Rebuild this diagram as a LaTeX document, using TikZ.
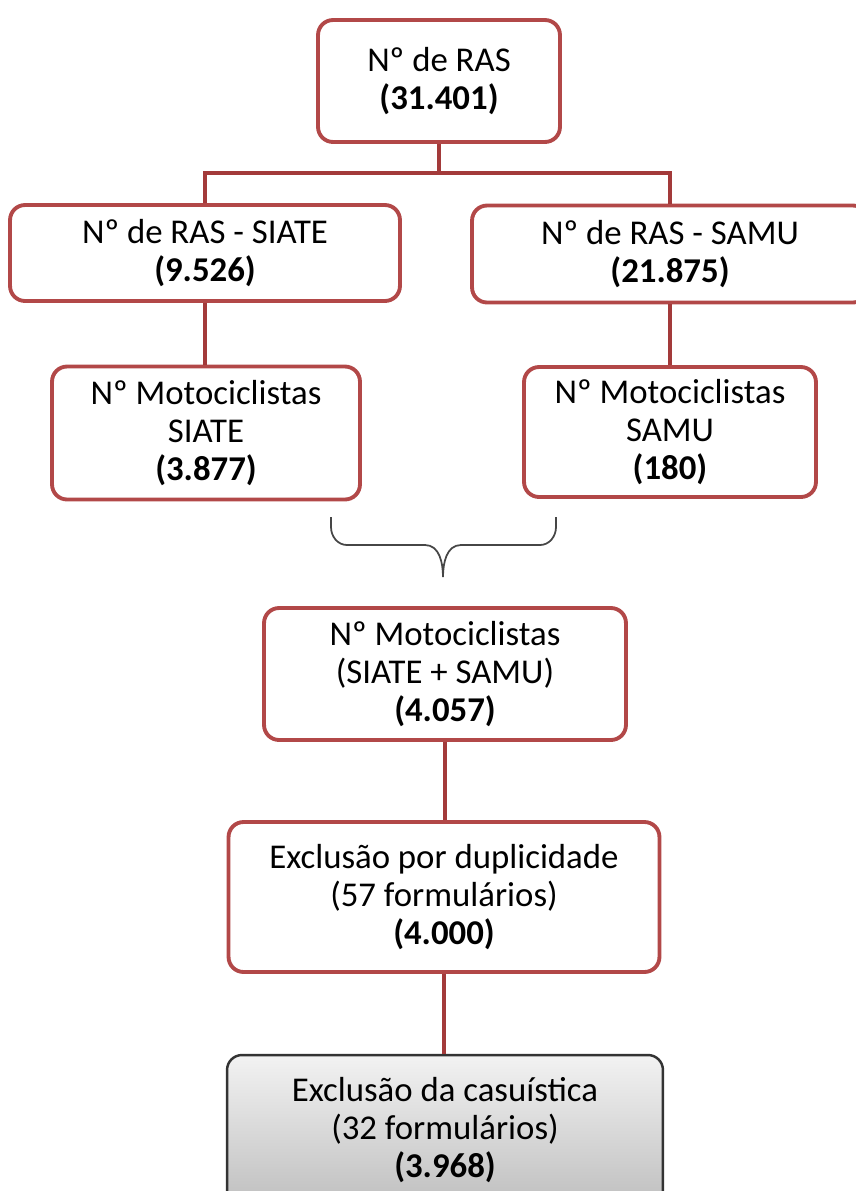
\documentclass[tikz,border=0pt]{standalone}
\usepackage{fontspec}
\setmainfont{Carlito}
\usepackage{tikz}
\usetikzlibrary{positioning}
\definecolor{boxred}{RGB}{178,72,72}
\definecolor{linered}{RGB}{163,58,58}
\definecolor{bracegray}{RGB}{70,70,70}

\begin{document}
\begin{tikzpicture}[x=0.02cm, y=-0.02cm, semithick,
  box/.style={draw=boxred, line width=2.2pt, rounded corners=0.3cm, fill=white,
    align=center, font=\fontsize{19.8}{21.5}\selectfont, inner sep=0pt},
  greybox/.style={box, draw=black!80, line width=1.4pt, top color=black!5, bottom color=black!25},
  conn/.style={draw=linered, line width=2.6pt}]

  \clip (0,0) rectangle (856,1191);

  \node[box, minimum width=4.84cm, minimum height=2.44cm] (ras) at (439,81) {Nº de RAS\\\textbf{(31.401)}};

  \node[box, minimum width=7.8cm, minimum height=1.92cm] (siate) at (205,253) {Nº de RAS - SIATE\\\textbf{(9.526)}};
  \node[box, minimum width=7.92cm, minimum height=1.94cm] (samu) at (670,254) {Nº de RAS - SAMU\\\textbf{(21.875)}};

  \node[box, minimum width=6.16cm, minimum height=2.66cm] (msiate) at (206,433) {Nº Motociclistas\\SIATE\\\textbf{(3.877)}};
  \node[box, minimum width=5.84cm, minimum height=2.6cm] (msamu) at (670,432) {Nº Motociclistas\\SAMU\\\textbf{(180)}};

  \node[box, minimum width=7.24cm, minimum height=2.64cm] (total) at (445,674) {Nº Motociclistas\\(SIATE + SAMU)\\\textbf{(4.057)}};
  \node[box, minimum width=8.62cm, minimum height=3cm] (dup) at (444,897) {Exclusão por duplicidade\\(57 formulários)\\\textbf{(4.000)}};
  \node[greybox, minimum width=8.72cm, minimum height=3cm] (casu) at (445,1130) {Exclusão da casuística\\(32 formulários)\\\textbf{(3.968)}};

  \coordinate (bus) at (439,173);
  \draw[conn] (ras.south) -- (bus);
  \draw[conn] (siate.north) |- (bus) -| (samu.north);
  \draw[conn] (siate.south) -- (siate.south |- msiate.north);
  \draw[conn] (samu.south) -- (msamu.north);
  \draw[conn] (total.south) -- (total.south |- dup.north);
  \draw[conn] (dup.south) -- (dup.south |- casu.north);

  \coordinate (bl) at (331,517);
  \coordinate (br) at (556,517);
  \coordinate (tip) at (443,577);
  \draw[bracegray, line width=1pt] (bl) -- +(0,10) to[out=-90, in=180] (347,545) -- (425,545)
    to[out=0, in=90] (tip) to[out=90, in=180] (461,545) -- (540,545) to[out=0, in=-90] (556,527) -- (br);
\end{tikzpicture}
\end{document}
